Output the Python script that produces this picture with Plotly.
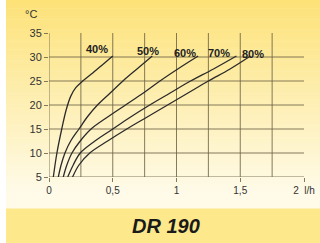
import plotly.graph_objects as go

# Flow (l/h) vs temperature (°C) for each valve opening
series_names = ["40%", "50%", "60%", "70%", "80%"]
flow_40 = [0.034, 0.062, 0.10, 0.135, 0.17, 0.21, 0.26, 0.33, 0.42, 0.50]
temp_40 = [5, 10, 15, 19, 21.8, 23.6, 24.9, 26.4, 28.4, 30.2]
flow_50 = [0.073, 0.095, 0.125, 0.17, 0.235, 0.30, 0.38, 0.48, 0.58, 0.69, 0.81]
temp_50 = [5, 7.5, 10, 12.5, 15, 17.5, 20, 22.5, 25, 27.5, 30.2]
flow_60 = [0.112, 0.14, 0.18, 0.245, 0.33, 0.46, 0.60, 0.74, 0.87, 1.01, 1.17]
temp_60 = [5, 7.5, 10, 12.5, 15, 17.5, 20, 22.5, 25, 27.5, 30.2]
flow_70 = [0.147, 0.19, 0.245, 0.36, 0.50, 0.64, 0.79, 0.95, 1.11, 1.29, 1.47]
temp_70 = [5, 7.5, 10, 12.5, 15, 17.5, 20, 22.5, 25, 27.5, 30.2]
flow_80 = [0.185, 0.235, 0.32, 0.46, 0.61, 0.77, 0.93, 1.09, 1.25, 1.42, 1.58]
temp_80 = [5, 7.5, 10, 12.5, 15, 17.5, 20, 22.5, 25, 27.5, 30.2]
label_x = [0.374, 0.777, 1.067, 1.333, 1.60]
label_y = [31.6, 31.3, 30.9, 30.9, 30.6]

x_tickvals = [0, 0.5, 1, 1.5, 2]
x_ticktext = ["0", "0,5", "1", "1,5", "2  l/h"]
y_tickvals = [5, 10, 15, 20, 25, 30, 35]
title_text = "DR 190"
y_unit = "°C"

flows = [flow_40, flow_50, flow_60, flow_70, flow_80]
temps = [temp_40, temp_50, temp_60, temp_70, temp_80]

W, H = 320, 243
ML, MR, MT, MB = 49, 16, 33, 66
PW, PH = W - ML - MR, H - MT - MB


def px(xp):  # figure pixel x -> paper x
    return (xp - ML) / PW


def py(yp):  # figure pixel y (from top) -> paper y
    return (H - MB - yp) / PH


fig = go.Figure()
line_col = "#2b2b2b"
grid_col = "rgba(110,100,70,0.85)"

for name, xs, ys in zip(series_names, flows, temps):
    fig.add_trace(go.Scatter(x=xs, y=ys, mode="lines", name=name,
                             line=dict(color=line_col, width=1.3, shape="spline", smoothing=1.0),
                             showlegend=False, hoverinfo="skip"))

shapes = []
# background gradient (paper coordinates) from top of figure down to pixel 192
n = 70
top = (253, 226, 120)
bot = (255, 251, 232)
g_top, g_bot = 0, 192
for i in range(n):
    ya = g_top + (g_bot - g_top) * i / n
    yb = g_top + (g_bot - g_top) * (i + 1) / n
    t = (i + 0.5) / n
    c = tuple(int(top[k] + (bot[k] - top[k]) * t) for k in range(3))
    shapes.append(dict(type="rect", xref="paper", yref="paper", x0=px(6), x1=px(W + 2),
                       y0=py(yb + 0.5), y1=py(ya), line=dict(width=0),
                       fillcolor="rgb(%d,%d,%d)" % c, layer="below"))
shapes.append(dict(type="rect", xref="paper", yref="paper", x0=px(6), x1=px(W + 2),
                   y0=py(209), y1=py(g_bot), line=dict(width=0),
                   fillcolor="rgb(%d,%d,%d)" % bot, layer="below"))
shapes.append(dict(type="rect", xref="paper", yref="paper", x0=px(6), x1=px(W + 2),
                   y0=py(H + 2), y1=py(208.5), line=dict(width=0),
                   fillcolor="rgb(253,233,140)", layer="below"))

for gx in [0, 0.25, 0.5, 0.75, 1, 1.25, 1.5, 1.75]:
    shapes.append(dict(type="line", xref="x", yref="y", x0=gx, x1=gx, y0=5, y1=35,
                       line=dict(color=grid_col, width=1), layer="below"))
for gy in [5, 10, 15, 20, 25, 30]:
    shapes.append(dict(type="line", xref="x", yref="y", x0=0, x1=2, y0=gy, y1=gy,
                       line=dict(color=grid_col, width=1), layer="below"))

annotations = []
for name, lx, ly in zip(series_names, label_x, label_y):
    annotations.append(dict(x=lx, y=ly, text="<b>%s</b>" % name, showarrow=False,
                            font=dict(family="Liberation Sans, Arial", size=11, color="#222"),
                            xanchor="center", yanchor="middle"))
annotations.append(dict(xref="paper", yref="paper", x=px(31), y=py(14), text=y_unit, showarrow=False,
                        font=dict(family="Liberation Sans, Arial", size=11, color="#333"),
                        xanchor="center", yanchor="middle"))
annotations.append(dict(xref="paper", yref="paper", x=px(166), y=py(226), text="<b><i>%s</i></b>" % title_text,
                        showarrow=False, font=dict(family="Liberation Sans, Arial", size=20, color="#1a1a1a"),
                        xanchor="center", yanchor="middle"))

fig.update_layout(
    width=W, height=H,
    margin=dict(l=ML, r=MR, t=MT, b=MB),
    paper_bgcolor="white",
    plot_bgcolor="rgba(0,0,0,0)",
    shapes=shapes,
    annotations=annotations,
    xaxis=dict(range=[0, 2], tickvals=x_tickvals, ticktext=x_ticktext, automargin=False,
               showgrid=False, zeroline=False, showline=False,
               ticks="outside", ticklen=4, tickcolor=grid_col,
               tickfont=dict(family="Liberation Sans, Arial", size=10, color="#333")),
    yaxis=dict(range=[5, 35], tickvals=y_tickvals, automargin=False,
               showgrid=False, zeroline=False, showline=False,
               ticks="outside", ticklen=4, tickcolor=grid_col,
               tickfont=dict(family="Liberation Sans, Arial", size=11, color="#333")),
)

fig.write_html("out.html", config={"displayModeBar": False},
               post_script="document.body.style.margin='0';document.body.style.padding='0';"
                           "document.body.style.overflow='hidden';")
